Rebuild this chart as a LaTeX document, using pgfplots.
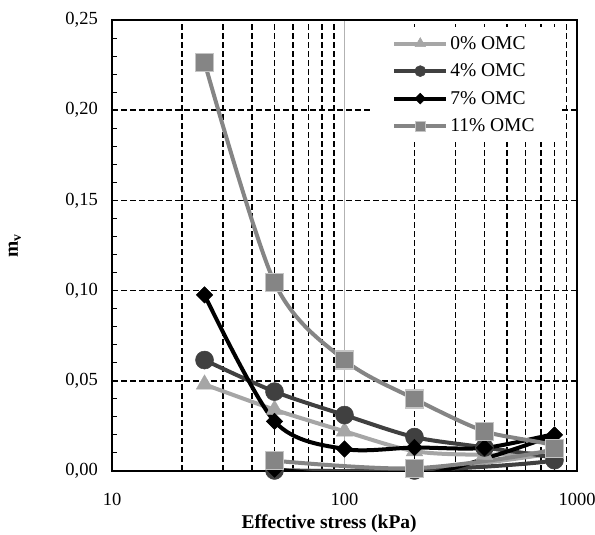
\documentclass[border=0pt]{standalone}
\usepackage{fontspec}
\setmainfont{Liberation Serif}
\usepackage{pgfplots}
\pgfplotsset{compat=1.18}

\definecolor{c0}{HTML}{A6A6A6}
\definecolor{c4}{HTML}{404040}
\definecolor{c7}{HTML}{000000}
\definecolor{c11}{HTML}{858585}
\definecolor{c11e}{HTML}{C4C4C4}

% loading 25..800 kPa, then unloading back to 200 and 50 kPa
\pgfplotstableread{
x y
25 0.048
50 0.034
100 0.022
200 0.011
400 0.009
800 0.010
200 0.0005
50 0.0005
}\omcA
\pgfplotstableread{
x y
25 0.0615
50 0.044
100 0.031
200 0.0188
400 0.013
800 0.006
200 0.0003
50 0.0003
}\omcB
\pgfplotstableread{
x y
25 0.0976
50 0.0275
100 0.0122
200 0.0130
400 0.0128
800 0.020
200 -0.003
50 0.001
}\omcC
\pgfplotstableread{
x y
25 0.2265
50 0.1045
100 0.0615
200 0.040
400 0.022
800 0.0125
200 0.0015
50 0.0057
}\omcD

\begin{document}
\begin{tikzpicture}
\begin{axis}[
  scale only axis, width=465pt, height=451pt,
  xmode=log, xmin=10, xmax=1000,
  ymin=0, ymax=0.25,
  xtick={10,100,1000}, xticklabels={10,100,1000},
  minor xtick={20,30,40,50,60,70,80,90,200,300,400,500,600,700,800,900},
  ytick={0,0.05,0.1,0.15,0.2,0.25},
  minor y tick num=4,
  xtick pos=bottom, ytick pos=left,
  tick align=inside,
  major tick length=6pt, minor tick length=5pt,
  tick style={black, line width=1pt},
  axis line style={black, line width=2pt},
  xmajorgrids=true, xminorgrids=true, ymajorgrids=true,
  major x grid style={gray!60, line width=0.8pt, solid},
  minor x grid style={black, line width=1.6pt, dash pattern=on 6pt off 3pt},
  major y grid style={black, line width=1.6pt, dash pattern=on 6pt off 3pt},
  /pgf/number format/assume math mode=true,
  yticklabel style={/pgf/number format/fixed, /pgf/number format/fixed zerofill,
    /pgf/number format/precision=2, /pgf/number format/use comma,
    anchor=east, inner sep=0pt, xshift=-14pt},
  every tick label/.append style={font=\fontsize{18.5}{20}\selectfont},
  xticklabel style={anchor=north, inner sep=0pt, yshift=-22pt},
  xlabel={\textbf{Effective stress (kPa)}},
  ylabel={\textbf{m}\textsubscript{\textbf{v}}},
  label style={font=\fontsize{19.5}{21}\selectfont},
  xlabel style={at={(axis description cs:0.467,-0.117)}, anchor=center},
  ylabel style={at={(axis description cs:-0.209,0.5)}, anchor=center},
  legend image code/.code={\draw[mark repeat=2,mark phase=2,#1] plot coordinates {(0pt,0pt) (26pt,0pt) (52pt,0pt)};},
  legend style={at={(axis description cs:0.555,0.984)}, anchor=north west,
    draw=none, fill=white, inner xsep=22pt, inner ysep=7pt, row sep=9pt,
    font=\fontsize{19.5}{21}\selectfont},
  legend cell align=left,
]
\addlegendimage{c0, line width=4pt, mark=triangle*, mark size=6pt, mark options={fill=c0, draw=c0, line width=0.5pt}}
\addlegendentry{0\% OMC}
\addlegendimage{c4, line width=4pt, mark=*, mark size=5.5pt, mark options={fill=c4, draw=c4, line width=0.5pt}}
\addlegendentry{4\% OMC}
\addlegendimage{c7, line width=4pt, mark=square*, mark size=3.8pt, mark options={rotate=45, fill=c7, draw=c7, line width=0.5pt}}
\addlegendentry{7\% OMC}
\addlegendimage{c11, line width=4pt, mark=square*, mark size=5pt, mark options={fill=c11, draw=c11e, line width=1pt}}
\addlegendentry{11\% OMC}

\addplot[forget plot, smooth, c0, line width=4pt, mark=triangle*, mark size=9.5pt, mark options={fill=c0, draw=c0, line width=0.5pt}] table {\omcA};
\addplot[forget plot, smooth, c4, line width=4pt, mark=*, mark size=9pt, mark options={fill=c4, draw=c4, line width=0.5pt}] table {\omcB};
\addplot[forget plot, smooth, c7, line width=4pt, mark=square*, mark size=5.8pt, mark options={rotate=45, fill=c7, draw=c7, line width=0.5pt}] table {\omcC};
\addplot[forget plot, smooth, c11, line width=4pt, mark=square*, mark size=9pt, mark options={fill=c11, draw=c11e, line width=1.5pt}] table {\omcD};
\end{axis}
\pgfresetboundingbox
\path ([shift={(-112pt,-64pt)}]current axis.south west) rectangle ++(595pt,535pt);
\end{tikzpicture}
\end{document}
